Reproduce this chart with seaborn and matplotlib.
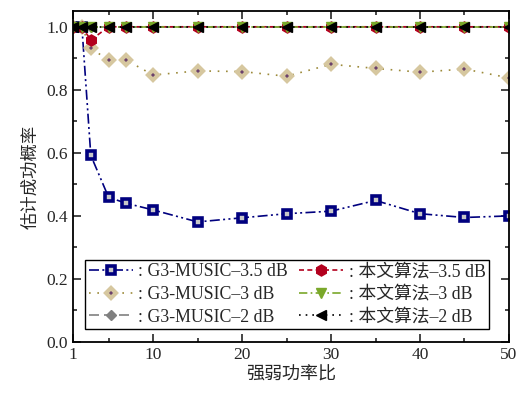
import matplotlib
matplotlib.use("Agg")
import matplotlib.pyplot as plt
import seaborn as sns
import pandas as pd
from matplotlib.ticker import MultipleLocator, FixedLocator

# Power ratio (strong / weak) on the x axis
ratio = [1, 2, 3, 5, 7, 10, 15, 20, 25, 30, 35, 40, 45, 50]

# Estimation success probability for each method / SNR
g3_35 = [1.0, 1.0, 0.592, 0.459, 0.440, 0.419, 0.381, 0.394, 0.407, 0.415, 0.449, 0.407, 0.395, 0.400]
g3_3 = [1.0, 1.0, 0.932, 0.894, 0.894, 0.847, 0.860, 0.858, 0.843, 0.881, 0.868, 0.856, 0.866, 0.838]
g3_2 = [1.0] * 14
ours_35 = [1.0, 1.0, 0.958, 1.0, 1.0, 1.0, 1.0, 1.0, 1.0, 1.0, 1.0, 1.0, 1.0, 1.0]
ours_3 = [1.0] * 14
ours_2 = [1.0] * 14

labels = [": G3-MUSIC\u20133.5 dB", ": G3-MUSIC\u20133 dB", ": G3-MUSIC\u20132 dB",
          ": 本文算法\u20133.5 dB", ": 本文算法\u20133 dB", ": 本文算法\u20132 dB"]

sns.set_style("ticks")
plt.rcParams["font.family"] = ["Liberation Serif", "Noto Sans CJK SC"]
plt.rcParams["font.size"] = 12
plt.rcParams["axes.linewidth"] = 1.3
plt.rcParams["xtick.direction"] = "in"
plt.rcParams["ytick.direction"] = "in"

fig = plt.figure(figsize=(5.23, 3.94), dpi=100)
ax = fig.add_axes([0.1396, 0.132, 0.8336, 0.840])

styles = [
    dict(color="#00007f", linestyle=(0, (6, 2, 1.2, 2, 1.2, 2)), marker="s", markersize=6,
         markerfacecolor="#c8c8c8", markeredgecolor="#00007f", markeredgewidth=2.6),
    dict(color="#9c8a3a", linestyle=(0, (1, 4)), marker="D", markersize=5,
         markerfacecolor="#6b416b", markeredgecolor="#d6c79f", markeredgewidth=3.0),
    dict(color="#808080", linestyle=(0, (6, 3)), marker="D", markersize=5,
         markerfacecolor="#808080", markeredgecolor="#808080", markeredgewidth=1),
    dict(color="#b3001e", linestyle=(0, (3, 2)), marker="h", markersize=8,
         markerfacecolor="#b3001e", markeredgecolor="#b3001e", markeredgewidth=1),
    dict(color="#7aa82a", linestyle=(0, (5, 2, 1, 2)), marker="v", markersize=7.5,
         markerfacecolor="#7aa82a", markeredgecolor="#7aa82a", markeredgewidth=1),
    dict(color="#000000", linestyle=(0, (1, 3)), marker="<", markersize=7,
         markerfacecolor="#000000", markeredgecolor="#000000", markeredgewidth=1),
]

series = [g3_35, g3_3, g3_2, ours_35, ours_3, ours_2]
for vals, lab, st in zip(series, labels, styles):
    df = pd.DataFrame({"ratio": ratio, "p": vals})
    sns.lineplot(data=df, x="ratio", y="p", ax=ax, label=lab, linewidth=1.2, **st)

ax.set_xlim(1, 50)
ax.set_ylim(0, 1.05)
ax.xaxis.set_major_locator(FixedLocator([1, 10, 20, 30, 40, 50]))
ax.xaxis.set_minor_locator(FixedLocator([5, 15, 25, 35, 45]))
ax.yaxis.set_major_locator(MultipleLocator(0.2))
ax.yaxis.set_minor_locator(MultipleLocator(0.1))
ax.yaxis.set_major_formatter(matplotlib.ticker.FormatStrFormatter("%.1f"))
ax.tick_params(which="both", top=True, right=True, width=1.2, labelsize=12.5)
ax.tick_params(which="major", length=6)
ax.tick_params(which="minor", length=3)
for s in ax.spines.values():
    s.set_visible(True)
    s.set_color("black")

ax.set_xlabel("强弱功率比", fontsize=13, labelpad=3)
ax.set_ylabel("估计成功概率", fontsize=12.5, labelpad=5)

leg = ax.legend(loc="lower left", bbox_to_anchor=(0.0275, 0.039), ncol=2,
                frameon=True, fancybox=False, edgecolor="black", framealpha=1,
                borderaxespad=0, handlelength=2.5, handletextpad=0.3,
                columnspacing=0.6, labelspacing=0.32, borderpad=0.2, fontsize=12.8)
leg.get_frame().set_linewidth(1.0)

fig.savefig("out.png", dpi=100)
